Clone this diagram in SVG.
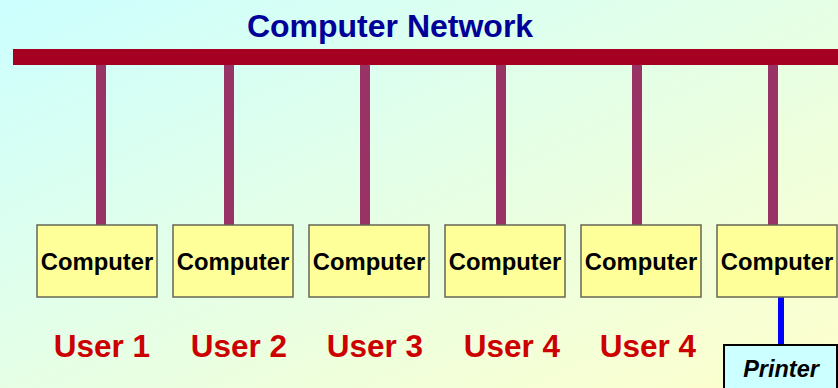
<svg xmlns="http://www.w3.org/2000/svg" width="838" height="388" viewBox="0 0 838 388">
<defs>
<linearGradient id="bg" x1="0" y1="0" x2="1" y2="1">
<stop offset="0" stop-color="#CCFFFF"/>
<stop offset="1" stop-color="#FFFFCC"/>
</linearGradient>
<style>
.box{fill:#FFFF99;stroke:#666655;stroke-width:1.5}
.lbl{font-family:"Liberation Sans",Arial,sans-serif;font-weight:bold;font-size:23.8px;fill:#000;text-anchor:middle}
.user{font-family:"Liberation Sans",Arial,sans-serif;font-weight:bold;font-size:31.5px;fill:#CC0000;text-anchor:middle}
.drop{fill:#993366}
</style>
</defs>
<rect width="838" height="388" fill="url(#bg)"/>
<text x="390" y="37" font-family="'Liberation Sans',Arial,sans-serif" font-weight="bold" font-size="32" fill="#000099" text-anchor="middle">Computer Network</text>
<g id="connectors">
<rect x="13" y="49" width="825" height="16" fill="#A50021"/>
<rect class="drop" x="96" y="65" width="10" height="160"/>
<rect class="drop" x="224" y="65" width="10" height="160"/>
<rect class="drop" x="360" y="65" width="10" height="160"/>
<rect class="drop" x="496" y="65" width="10" height="160"/>
<rect class="drop" x="632" y="65" width="10" height="160"/>
<rect class="drop" x="768" y="65" width="10" height="160"/>
<rect x="778" y="297" width="6" height="48" fill="#0000FF"/>
</g>
<g id="computer1"><rect class="box" x="37" y="225" width="120" height="72"/><text class="lbl" x="97" y="270">Computer</text></g>
<g id="computer2"><rect class="box" x="173" y="225" width="120" height="72"/><text class="lbl" x="233" y="270">Computer</text></g>
<g id="computer3"><rect class="box" x="309" y="225" width="120" height="72"/><text class="lbl" x="369" y="270">Computer</text></g>
<g id="computer4"><rect class="box" x="445" y="225" width="120" height="72"/><text class="lbl" x="505" y="270">Computer</text></g>
<g id="computer5"><rect class="box" x="581" y="225" width="120" height="72"/><text class="lbl" x="641" y="270">Computer</text></g>
<g id="computer6"><rect class="box" x="717" y="225" width="120" height="72"/><text class="lbl" x="777" y="270">Computer</text></g>
<g id="users">
<text class="user" x="102" y="357">User 1</text>
<text class="user" x="239" y="357">User 2</text>
<text class="user" x="375" y="357">User 3</text>
<text class="user" x="512" y="357">User 4</text>
<text class="user" x="648" y="357">User 4</text>
</g>
<g id="printer">
<rect x="724" y="345" width="113" height="50" fill="#CCFFFF" stroke="#000" stroke-width="2"/>
<text x="781" y="377" font-family="'Liberation Sans',Arial,sans-serif" font-weight="bold" font-style="italic" font-size="23.5" fill="#000" text-anchor="middle">Printer</text>
</g>
</svg>
